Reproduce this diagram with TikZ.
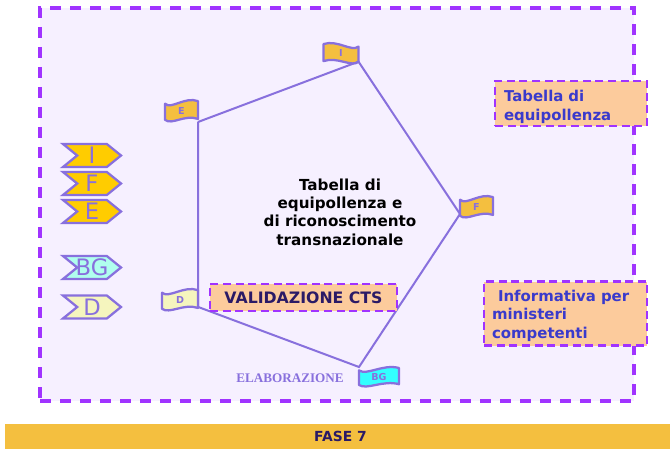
\documentclass[tikz,border=0pt]{standalone}
\usepackage{fontspec}
\setmainfont{DejaVu Sans}
\newfontfamily\elabfont{Liberation Serif}
\usetikzlibrary{
    shapes.symbols,
    positioning,
}
\definecolor{paleBack}{HTML}{F6F0FF}
\definecolor{dashViolet}{HTML}{A033FF}
\definecolor{lineViolet}{HTML}{8870DD}
\definecolor{tagGold}{HTML}{FFCC00}
\definecolor{tagCyan}{HTML}{B0FFEE}
\definecolor{tagCream}{HTML}{F5F5BE}
\definecolor{flagGold}{HTML}{F4BF3F}
\definecolor{flagCyan}{HTML}{33FFFF}
\definecolor{boxOrange}{HTML}{FCCB9C}
\definecolor{boxText}{HTML}{3A3ACC}
\definecolor{navyText}{HTML}{2A1A66}
\def\px{0.75pt}

\begin{document}
\begin{tikzpicture}[x=0.75pt,y=-0.75pt,inner sep=0pt,outer sep=0pt]

    \tikzstyle{dashBox}=[draw=dashViolet, line width=2.4pt, dash pattern=on 8.5pt off 6.5pt]
    \tikzstyle{noteBox}=[dashBox, fill=boxOrange, line width=2pt, dash pattern=on 6pt off 3.5pt, text=boxText, font=\bfseries\fontsize{11.2}{14.2}\selectfont, align=left]
    \tikzstyle{tag}=[signal, signal to=east, signal from=west, signal pointer angle=78, draw=lineViolet, line width=1.7pt, minimum width=58*\px, minimum height=23*\px, text=lineViolet, font=\fontsize{17}{18}\selectfont]
    \tikzstyle{flagLabel}=[text=lineViolet, font=\bfseries\fontsize{7.2}{8}\selectfont]
    \tikzstyle{flagWave}=[draw=lineViolet, line width=1.7pt, line join=round]
    \tikzstyle{edgeLine}=[draw=lineViolet, line width=1.5pt]

    % name, centre x, centre y, width, height, direction, colour
    \def\flag#1#2#3#4#5#6#7{
        \begin{scope}[shift={(#2,#3)}, x={#6*#4*\px}, y={-#5*\px}]
            \path[flagWave, fill=#7] (-0.5,0.4) .. controls (-0.3,0.66) and (0.1,0.14) .. (0.5,0.36)
                -- (0.5,-0.45) .. controls (0.1,-0.67) and (-0.3,-0.06) .. (-0.5,-0.33) -- cycle;
        \end{scope}
        \node at (#2,#3) [flagLabel, minimum width=#4*\px, minimum height=#5*\px] (#1) {#1};
    }

    \useasboundingbox (0,0) rectangle (670,449);

    % Background and band
    \node at (337,204.5) [dashBox, fill=paleBack, minimum width=594*\px, minimum height=393*\px] (frame) {};
    \node at (337.5,436.5) [fill=flagGold, minimum width=665*\px, minimum height=25*\px, text=navyText, font=\bfseries\fontsize{10.4}{12}\selectfont] (band) {\hspace*{4.5pt}FASE 7};

    % Country tags
    \node at (92,155.5) [tag, fill=tagGold]  (tagI)  {I};
    \node at (92,183.5) [tag, fill=tagGold]  (tagF)  {F};
    \node at (92,211.5) [tag, fill=tagGold]  (tagE)  {E};
    \node at (92,267.5) [tag, fill=tagCyan]  (tagBG) {\makebox[0pt]{BG}};
    \node at (92,307)   [tag, fill=tagCream] (tagD)  {D};

    % Flags
    \flag{E}{181.5}{111}{33}{22}{1}{flagGold}
    \flag{I}{341}{53.5}{35}{21}{-1}{flagGold}
    \flag{F}{476.5}{207}{33}{22}{1}{flagGold}
    \flag{BG}{379}{377}{40}{20}{1}{flagCyan}
    \flag{D}{180}{300}{36}{22}{1}{tagCream}

    % Pentagon
    \draw[edgeLine] (E.south east) -- (I.-25) -- (F.203) -- (BG.north west) -- (D.-21) -- (E.south east);

    % Texts and boxes
    \node at (340,212) [align=center, font=\bfseries\fontsize{11.4}{13.8}\selectfont] (centre) {Tabella di \\ equipollenza e \\ di riconoscimento \\ transnazionale};
    \node at (303.5,297.5) [noteBox, text=navyText, minimum width=187*\px, minimum height=27*\px, align=center, font=\bfseries\fontsize{11.8}{14}\selectfont] (validation) {VALIDAZIONE CTS};
    \node at (571,103.5) [noteBox, minimum width=152*\px, minimum height=45*\px, text width=134*\px] (table) {\rule{0pt}{13.5pt}Tabella di \\ equipollenza};
    \node at (565.5,313.5) [noteBox, minimum width=163*\px, minimum height=64*\px, text width=147*\px] (report) {\rule{0pt}{12pt}\hspace{4.5pt}Informativa per \\ ministeri \\ competenti};
    \node at (290,378.5) [text=lineViolet, font=\elabfont\bfseries\fontsize{9.85}{11}\selectfont] (elab) {ELABORAZIONE};

\end{tikzpicture}
\end{document}
